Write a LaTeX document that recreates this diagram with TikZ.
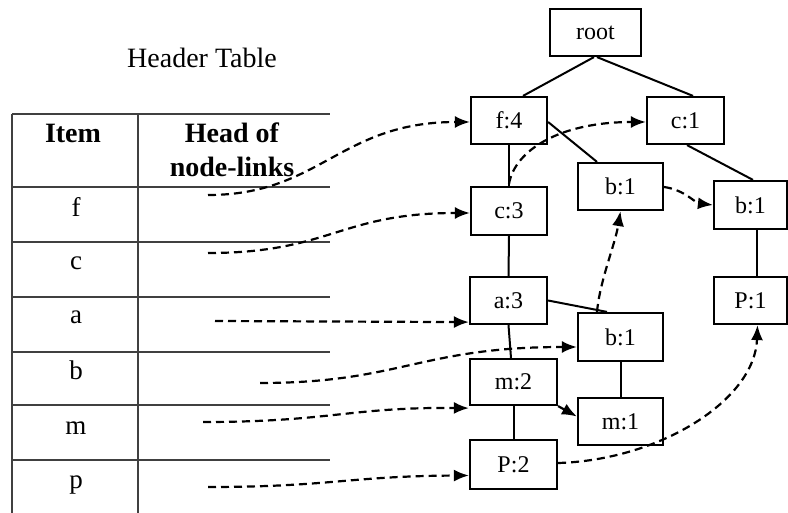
\documentclass[tikz,border=0pt]{standalone}
\usepackage{fontspec}
\setmainfont{Liberation Serif}
\usetikzlibrary{arrows.meta,calc}
\tikzset{
  box/.style={draw, line width=2.2pt, rectangle, inner sep=0pt, font=\fontsize{24}{28}\selectfont},
  edge/.style={line width=2pt},
  link/.style={line width=2.2pt, dash pattern=on 8pt off 5pt, -{Latex[length=15pt,width=12pt]}},
  tline/.style={line width=2pt, draw=black!75},
  ttext/.style={anchor=base, font=\fontsize{27}{30}\selectfont},
  thead/.style={anchor=base, font=\bfseries\fontsize{28}{30}\selectfont},
}
\begin{document}
\begin{tikzpicture}[x=1pt,y=-1pt]
\useasboundingbox (0,0) rectangle (788,513);
% header table
\node[anchor=base, font=\fontsize{28}{30}\selectfont] (title) at (202,68) {Header Table};
\draw[tline] (12,114) -- (330,114);
\foreach \yy in {187,242,297,352,405,460} \draw[tline] (12,\yy) -- (330,\yy);
\draw[tline] (12,114) -- (12,513);
\draw[tline] (138,114) -- (138,513);
\node[thead] (item) at (73,143) {Item};
\node[thead] (headof) at (232,143) {Head of};
\node[thead] (nodelinks) at (232,177) {node-links};
\node[ttext] (rf) at (76,217) {f};
\node[ttext] (rc) at (76,270) {c};
\node[ttext] (ra) at (76,324) {a};
\node[ttext] (rb) at (76,379) {b};
\node[ttext] (rm) at (76,434) {m};
\node[ttext] (rp) at (76,488) {p};
% tree nodes
\node[box, minimum width=91pt, minimum height=47pt] (root) at (595.5,32.5) {root};
\node[box, minimum width=76pt, minimum height=47pt] (f4) at (509,120.5) {f:4};
\node[box, minimum width=77pt, minimum height=47pt] (c1) at (685.5,120.5) {c:1};
\node[box, minimum width=85pt, minimum height=47pt] (b1m) at (620.5,186.5) {b:1};
\node[box, minimum width=76pt, minimum height=48pt] (c3) at (509,211) {c:3};
\node[box, minimum width=73pt, minimum height=48pt] (b1r) at (750.5,205) {b:1};
\node[box, minimum width=77pt, minimum height=47pt] (a3) at (508.5,300.5) {a:3};
\node[box, minimum width=85pt, minimum height=48pt] (b1l) at (620.5,337) {b:1};
\node[box, minimum width=87pt, minimum height=46pt] (m2) at (513.5,382) {m:2};
\node[box, minimum width=85pt, minimum height=47pt] (m1) at (620.5,421.5) {m:1};
\node[box, minimum width=87pt, minimum height=49pt] (P2) at (513.5,464.5) {P:2};
\node[box, minimum width=73pt, minimum height=47pt] (P1) at (750.5,300.5) {P:1};
% tree edges
\draw[edge] ($(root.south)+(-1.5,0)$) -- ($(f4.north)+(14,0)$);
\draw[edge] ($(root.south)+(1.5,0)$) -- ($(c1.north)+(7.5,0)$);
\draw[edge] ($(f4.east)+(0,1.5)$) -- ($(b1m.north)+(-23.5,0)$);
\draw[edge] (f4.south) -- (c3.north);
\draw[edge] ($(c1.south)+(1.5,0)$) -- ($(b1r.north)+(2.5,0)$);
\draw[edge] (c3.south) -- (a3.north);
\draw[edge] ($(b1r.south)+(6.5,0)$) -- ($(P1.north)+(6.5,0)$);
\draw[edge] (a3.east) -- ($(b1l.north)+(-13.5,0)$);
\draw[edge] (a3.south) -- ($(m2.north)+(-2.5,0)$);
\draw[edge] (b1l.south) -- (m1.north);
\draw[edge] (m2.south) -- (P2.north);
% node-links
\coordinate (sf) at (208,195);
\coordinate (sc) at (208,253);
\coordinate (sa) at (215,321);
\coordinate (sb) at (260,383);
\coordinate (sm) at (203,422);
\coordinate (sp) at (208,487);
\draw[link] (sf) .. controls (320,195) and (340,122) .. ($(f4.west)+(0,1.5)$);
\draw[link] (sc) .. controls (330,253) and (340,213) .. ($(c3.west)+(0,2)$);
\draw[link] (sa) -- ($(a3.south west)+(0,-3)$);
\draw[link] (sb) .. controls (400,383) and (420,347) .. ($(b1l.west)+(0,10)$);
\draw[link] (sm) .. controls (330,422) and (350,407) .. ($(m2.south west)+(0,2)$);
\draw[link] (sp) .. controls (330,487) and (350,476) .. ($(P2.west)+(0,11)$);
\draw[link] ($(c3.north)+(0,-2)$) .. controls (515,150) and (560,122) .. ($(c1.west)+(0,1.5)$);
\draw[link] ($(b1m.east)+(0,0.5)$) .. controls (685,190) and (695,203) .. (b1r.west);
\draw[link] ($(b1l.north)+(-23.5,0)$) .. controls (600,280) and (615,245) .. (b1m.south);
\draw[link] (m2.south east) -- ($(m1.west)+(0,-5)$);
\draw[link] ($(P2.east)+(0,-1.5)$) .. controls (660,460) and (755,400) .. ($(P1.south)+(7,0)$);
\end{tikzpicture}
\end{document}
